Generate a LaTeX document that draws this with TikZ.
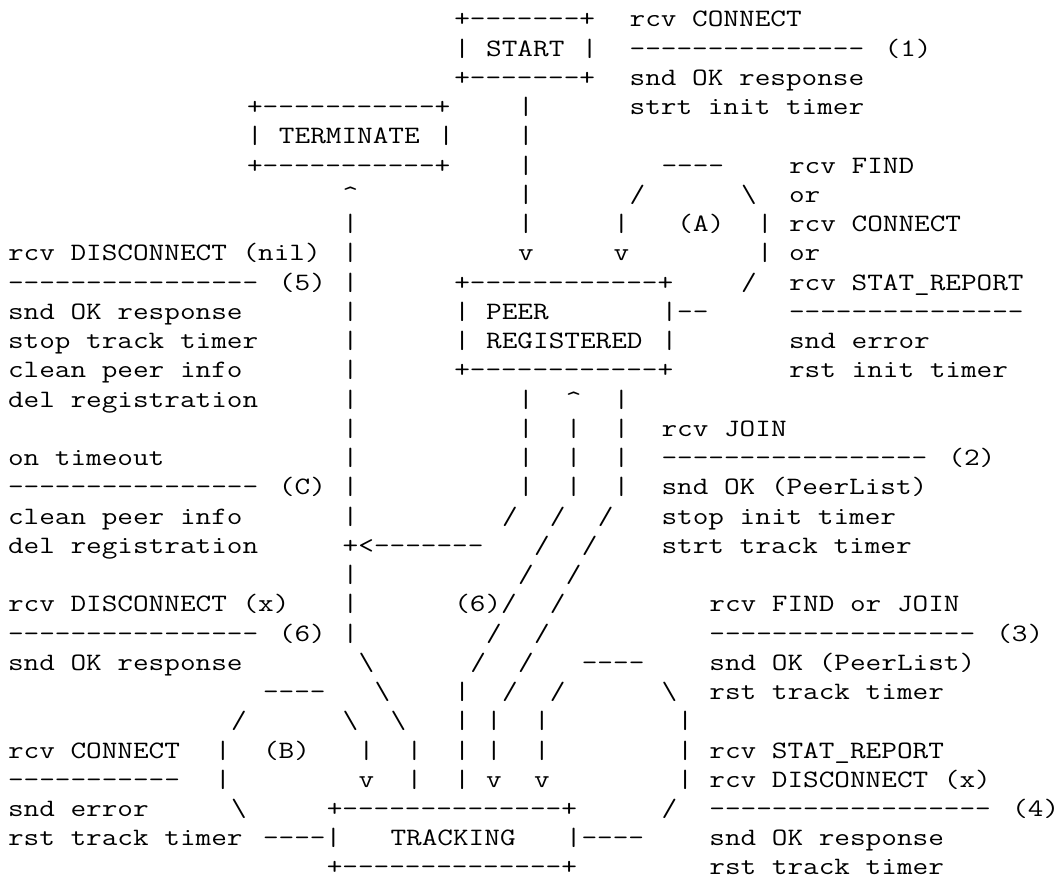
\documentclass[tikz,border=0pt]{standalone}
\usepackage{graphicx}
% typewriter text on a fixed 15.94pt x 29.24pt character grid
\newcommand\asciifont{\fontsize{25pt}{25pt}\fontfamily{lmtt}\fontseries{m}\selectfont\frenchspacing}
\newcommand\hyph[1]{\foreach\hyi in {1,...,#1}{\mbox{-}}}
\newcommand\bs{\textbackslash}
\newcommand\up{\textasciicircum}
% \rowtext{column}{row}{text}
\newcommand\rowtext[3]{\node[asc] (s#2-#1) at ({8pt+15.94pt*#1},{852pt-29.24pt*(#2-1)}) {\scalebox{1.21448}[1]{#3}};}
\tikzset{asc/.style={anchor=base west, inner sep=0pt, outer sep=0pt, font=\asciifont}}
\begin{document}
\begin{tikzpicture}
\fill[white] (0,0) rectangle (1060pt,879pt);
\useasboundingbox (0,0) rectangle (1060pt,879pt);
% row 1-3: START state and transition (1)
\rowtext{28}{1}{+\hyph{7}+}
\rowtext{39}{1}{rcv CONNECT}
\rowtext{28}{2}{|}\rowtext{30}{2}{START}\rowtext{36}{2}{|}
\rowtext{39}{2}{\hyph{15}}\rowtext{55}{2}{(1)}
\rowtext{28}{3}{+\hyph{7}+}
\rowtext{39}{3}{snd OK response}
% rows 4-9: TERMINATE state and loop (A)
\rowtext{15}{4}{+\hyph{11}+}\rowtext{32}{4}{|}\rowtext{39}{4}{strt init timer}
\rowtext{15}{5}{|}\rowtext{17}{5}{TERMINATE}\rowtext{27}{5}{|}\rowtext{32}{5}{|}
\rowtext{15}{6}{+\hyph{11}+}\rowtext{32}{6}{|}\rowtext{41}{6}{\hyph{4}}\rowtext{49}{6}{rcv FIND}
\rowtext{21}{7}{\up}\rowtext{32}{7}{|}\rowtext{39}{7}{/}\rowtext{46}{7}{\bs}\rowtext{49}{7}{or}
\rowtext{21}{8}{|}\rowtext{32}{8}{|}\rowtext{38}{8}{|}\rowtext{42}{8}{(A)}\rowtext{47}{8}{|}\rowtext{49}{8}{rcv CONNECT}
\rowtext{0}{9}{rcv DISCONNECT (nil)}\rowtext{21}{9}{|}\rowtext{32}{9}{v}\rowtext{38}{9}{v}\rowtext{47}{9}{|}\rowtext{49}{9}{or}
% rows 10-13: PEER REGISTERED state
\rowtext{0}{10}{\hyph{16}}\rowtext{17}{10}{(5)}\rowtext{21}{10}{|}\rowtext{28}{10}{+\hyph{12}+}\rowtext{46}{10}{/}\rowtext{49}{10}{rcv STAT\_REPORT}
\rowtext{0}{11}{snd OK response}\rowtext{21}{11}{|}\rowtext{28}{11}{|}\rowtext{30}{11}{PEER}\rowtext{41}{11}{|\hyph{2}}\rowtext{49}{11}{\hyph{15}}
\rowtext{0}{12}{stop track timer}\rowtext{21}{12}{|}\rowtext{28}{12}{|}\rowtext{30}{12}{REGISTERED}\rowtext{41}{12}{|}\rowtext{49}{12}{snd error}
\rowtext{0}{13}{clean peer info}\rowtext{21}{13}{|}\rowtext{28}{13}{+\hyph{12}+}\rowtext{49}{13}{rst init timer}
% rows 14-22: transitions (2), (C), (6)
\rowtext{0}{14}{del registration}\rowtext{21}{14}{|}\rowtext{32}{14}{|}\rowtext{35}{14}{\up}\rowtext{38}{14}{|}
\rowtext{21}{15}{|}\rowtext{32}{15}{|}\rowtext{35}{15}{|}\rowtext{38}{15}{|}\rowtext{41}{15}{rcv JOIN}
\rowtext{0}{16}{on timeout}\rowtext{21}{16}{|}\rowtext{32}{16}{|}\rowtext{35}{16}{|}\rowtext{38}{16}{|}\rowtext{41}{16}{\hyph{17}}\rowtext{59}{16}{(2)}
\rowtext{0}{17}{\hyph{16}}\rowtext{17}{17}{(C)}\rowtext{21}{17}{|}\rowtext{32}{17}{|}\rowtext{35}{17}{|}\rowtext{38}{17}{|}\rowtext{41}{17}{snd OK (PeerList)}
\rowtext{0}{18}{clean peer info}\rowtext{21}{18}{|}\rowtext{31}{18}{/}\rowtext{34}{18}{/}\rowtext{37}{18}{/}\rowtext{41}{18}{stop init timer}
\rowtext{0}{19}{del registration}\rowtext{21}{19}{+<\hyph{7}}\rowtext{33}{19}{/}\rowtext{36}{19}{/}\rowtext{41}{19}{strt track timer}
\rowtext{21}{20}{|}\rowtext{32}{20}{/}\rowtext{35}{20}{/}
\rowtext{0}{21}{rcv DISCONNECT (x)}\rowtext{21}{21}{|}\rowtext{28}{21}{(6)/}\rowtext{34}{21}{/}\rowtext{44}{21}{rcv FIND or JOIN}
\rowtext{0}{22}{\hyph{16}}\rowtext{17}{22}{(6)}\rowtext{21}{22}{|}\rowtext{30}{22}{/}\rowtext{33}{22}{/}\rowtext{44}{22}{\hyph{17}}\rowtext{62}{22}{(3)}
% rows 23-30: TRACKING state with loops (B), (3), (4)
\rowtext{0}{23}{snd OK response}\rowtext{22}{23}{\bs}\rowtext{29}{23}{/}\rowtext{32}{23}{/}\rowtext{36}{23}{\hyph{4}}\rowtext{44}{23}{snd OK (PeerList)}
\rowtext{16}{24}{\hyph{4}}\rowtext{23}{24}{\bs}\rowtext{28}{24}{|}\rowtext{31}{24}{/}\rowtext{34}{24}{/}\rowtext{41}{24}{\bs}\rowtext{44}{24}{rst track timer}
\rowtext{14}{25}{/}\rowtext{21}{25}{\bs}\rowtext{24}{25}{\bs}\rowtext{28}{25}{|}\rowtext{30}{25}{|}\rowtext{33}{25}{|}\rowtext{42}{25}{|}
\rowtext{0}{26}{rcv CONNECT}\rowtext{13}{26}{|}\rowtext{16}{26}{(B)}\rowtext{22}{26}{|}\rowtext{25}{26}{|}\rowtext{28}{26}{|}\rowtext{30}{26}{|}\rowtext{33}{26}{|}\rowtext{42}{26}{|}\rowtext{44}{26}{rcv STAT\_REPORT}
\rowtext{0}{27}{\hyph{11}}\rowtext{13}{27}{|}\rowtext{22}{27}{v}\rowtext{25}{27}{|}\rowtext{28}{27}{|}\rowtext{30}{27}{v}\rowtext{33}{27}{v}\rowtext{42}{27}{|}\rowtext{44}{27}{rcv DISCONNECT (x)}
\rowtext{0}{28}{snd error}\rowtext{14}{28}{\bs}\rowtext{20}{28}{+\hyph{14}+}\rowtext{41}{28}{/}\rowtext{44}{28}{\hyph{18}}\rowtext{63}{28}{(4)}
\rowtext{0}{29}{rst track timer}\rowtext{16}{29}{\hyph{4}|}\rowtext{24}{29}{TRACKING}\rowtext{35}{29}{|\hyph{4}}\rowtext{44}{29}{snd OK response}
\rowtext{20}{30}{+\hyph{14}+}\rowtext{44}{30}{rst track timer}
\end{tikzpicture}
\end{document}
